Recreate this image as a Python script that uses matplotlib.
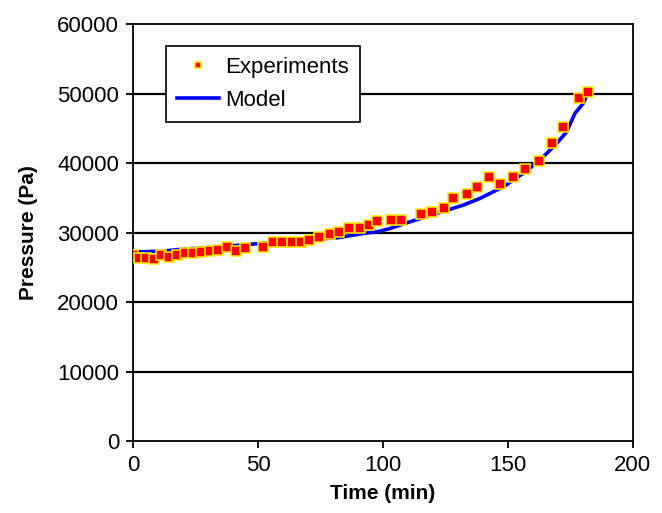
import matplotlib
matplotlib.use("Agg")
import matplotlib.pyplot as plt

plt.rcParams['font.family'] = ['Liberation Sans', 'DejaVu Sans']

# experimental points (time in min, pressure in Pa)
t_exp = [0.1, 2.5, 5.2, 8.4, 11.2, 14.4, 17.7, 20.8, 24.1, 27.3, 30.8, 34.1,
         37.5, 41.2, 44.8, 51.9, 55.9, 59.5, 63.7, 67.2, 70.5, 74.3, 78.8,
         82.4, 86.4, 90.8, 94.6, 97.6, 103.1, 107.2, 115.2, 119.7, 124.5,
         128.1, 133.5, 137.5, 142.4, 146.8, 152.1, 156.8, 162.5, 167.5,
         171.9, 178.6, 182.0]
p_exp = [26760, 26290, 26380, 26140, 26760, 26430, 26760, 27000, 27000, 27240,
         27340, 27530, 27870, 27340, 27820, 27870, 28590, 28590, 28590, 28680,
         28880, 29350, 29780, 30030, 30600, 30600, 31150, 31700, 31800, 31800,
         32660, 32900, 33480, 34960, 35540, 36500, 38030, 36980, 38030, 39090,
         40330, 42920, 45220, 49310, 50260]

# model curve
t_mod = [0, 12, 19, 32, 46, 59, 72, 81.6, 92, 98, 102.8, 110.8, 121.5, 132.1,
         138.8, 148.1, 156.1, 162.8, 169.5, 173.5, 176.8, 180.1, 182.0]
p_mod = [27200, 27350, 27600, 27900, 28300, 28680, 29060, 29250, 29880, 30150,
         30600, 31560, 32760, 33960, 34920, 36590, 38520, 40430, 42830, 44500,
         47150, 48580, 50100]

fig = plt.figure(figsize=(6.62, 5.13), dpi=100)
ax = fig.add_axes([0.201, 0.140, 0.755, 0.813])

for y in [10000, 20000, 30000, 40000, 50000]:
    ax.axhline(y, color='black', lw=1.6, zorder=1)

ax.plot(t_exp, p_exp, 's', color='red', markersize=6.5, markeredgecolor='#ffee00',
        markeredgewidth=1.1, label='Experiments', zorder=3)
ax.plot(t_mod, p_mod, '-', color='#0000ff', lw=2.6, label='Model', zorder=2)

ax.set_xlim(0, 200)
ax.set_ylim(0, 60000)
ax.set_xticks([0, 50, 100, 150, 200])
ax.set_yticks([0, 10000, 20000, 30000, 40000, 50000, 60000])
ax.tick_params(direction='out', length=5, width=1.3, labelsize=16, colors='black')
ax.tick_params(axis='y', pad=5)
ax.tick_params(axis='x', pad=5)
for s in ax.spines.values():
    s.set_linewidth(1.3)

ax.set_xlabel('Time (min)', fontsize=15, fontweight='bold', labelpad=6)
ax.set_ylabel('Pressure (Pa)', fontsize=15, fontweight='bold', labelpad=14)

leg = ax.legend(loc='upper left', bbox_to_anchor=(0.066, 0.948), fontsize=16,
                frameon=True, fancybox=False, markerscale=0.75, handlelength=1.9,
                borderpad=0.5, labelspacing=0.55, handletextpad=0.25,
                borderaxespad=0)
leg.get_frame().set_edgecolor('black')
leg.get_frame().set_linewidth(1.2)
leg.get_frame().set_alpha(1)

fig.savefig('out.png', dpi=100)
